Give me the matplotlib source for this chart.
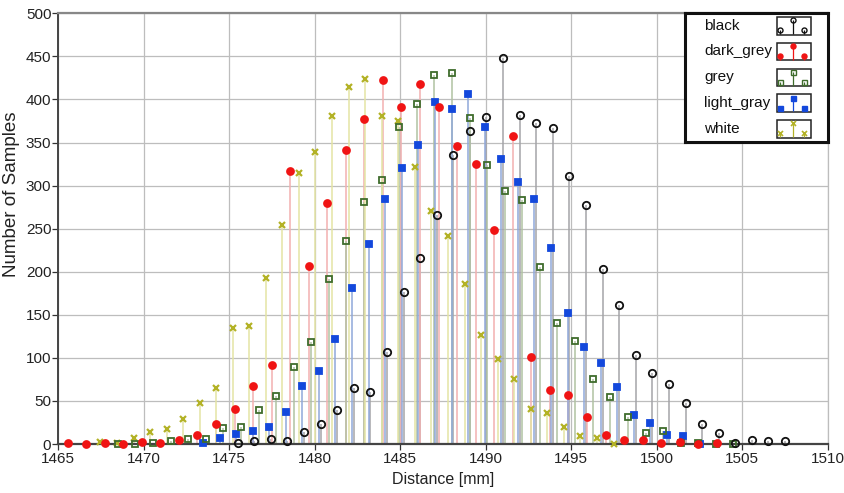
import matplotlib
matplotlib.use('Agg')
import matplotlib.pyplot as plt
from matplotlib.patches import Rectangle

plt.rcParams['font.family'] = ['Liberation Sans', 'DejaVu Sans']

# distance bins [mm] and sample counts, one set per target colour
black_x = [1475.49, 1476.46, 1477.43, 1478.40, 1479.37, 1480.34, 1481.31, 1482.28, 1483.25, 1484.22,
           1485.19, 1486.16, 1487.13, 1488.10, 1489.07, 1490.04, 1491.01, 1491.98, 1492.95, 1493.92,
           1494.89, 1495.86, 1496.83, 1497.80, 1498.77, 1499.74, 1500.71, 1501.68, 1502.65, 1503.62,
           1504.59, 1505.56, 1506.53, 1507.50]
black_y = [1, 3, 6, 3, 14, 23, 40, 65, 60, 107,
           176, 216, 266, 335, 363, 380, 448, 382, 373, 367,
           311, 278, 203, 161, 103, 83, 70, 48, 23, 13,
           1, 5, 4, 4]

dark_grey_x = [1465.55, 1466.63, 1467.72, 1468.80, 1469.89, 1470.97, 1472.06, 1473.14, 1474.23, 1475.31,
               1476.39, 1477.48, 1478.56, 1479.65, 1480.73, 1481.82, 1482.90, 1483.98, 1485.07, 1486.15,
               1487.24, 1488.32, 1489.41, 1490.49, 1491.58, 1492.66, 1493.74, 1494.83, 1495.91, 1497.00,
               1498.08, 1499.17, 1500.25, 1501.34, 1502.42, 1503.50]
dark_grey_y = [1, 0, 1, 0, 2, 1, 5, 10, 23, 41,
               67, 92, 317, 207, 280, 341, 377, 422, 391, 418,
               391, 346, 325, 249, 358, 101, 63, 57, 31, 11,
               5, 5, 1, 2, 0, 1]

grey_x = [1468.48, 1469.51, 1470.54, 1471.57, 1472.59, 1473.62, 1474.65, 1475.68, 1476.71, 1477.74,
          1478.77, 1479.79, 1480.82, 1481.85, 1482.88, 1483.91, 1484.94, 1485.96, 1486.99, 1488.02,
          1489.05, 1490.08, 1491.11, 1492.14, 1493.16, 1494.19, 1495.22, 1496.25, 1497.28, 1498.31,
          1499.34, 1500.37, 1501.39, 1502.42, 1503.45, 1504.48]
grey_y = [0, 0, 1, 3, 6, 6, 18, 20, 40, 56,
          89, 118, 192, 236, 281, 307, 368, 395, 428, 431,
          379, 324, 294, 283, 206, 141, 119, 76, 54, 31,
          13, 15, 1, 1, 0, 0]

light_gray_x = [1473.46, 1474.43, 1475.40, 1476.37, 1477.34, 1478.31, 1479.27, 1480.24, 1481.21, 1482.18,
                1483.15, 1484.12, 1485.09, 1486.06, 1487.03, 1488.00, 1488.96, 1489.93, 1490.90, 1491.87,
                1492.84, 1493.81, 1494.78, 1495.75, 1496.72, 1497.69, 1498.65, 1499.62, 1500.59, 1501.56,
                1502.53]
light_gray_y = [1, 7, 12, 15, 20, 37, 67, 85, 122, 181,
                232, 285, 320, 347, 397, 389, 406, 368, 331, 304,
                285, 227, 152, 113, 94, 66, 34, 24, 11, 9,
                0]

white_x = [1467.46, 1468.43, 1469.40, 1470.36, 1471.33, 1472.30, 1473.27, 1474.24, 1475.20, 1476.17,
           1477.14, 1478.11, 1479.08, 1480.04, 1481.01, 1481.98, 1482.95, 1483.92, 1484.88, 1485.85,
           1486.82, 1487.79, 1488.76, 1489.72, 1490.69, 1491.66, 1492.63, 1493.60, 1494.56, 1495.53,
           1496.50, 1497.47]
white_y = [2, 1, 7, 14, 17, 29, 48, 65, 135, 137,
           193, 254, 315, 339, 381, 415, 424, 381, 375, 322,
           271, 241, 186, 127, 99, 76, 41, 36, 20, 9,
           7, 0]

names = ['black', 'dark_grey', 'grey', 'light_gray', 'white']

# (marker, marker colour, filled, marker size, stem colour)
styles = {
    'black':      ('o', '#111111', False, 5.3, '#a4a4a8'),
    'dark_grey':  ('o', '#f01414', True, 5.0, '#f2b0b0'),
    'grey':       ('s', '#3f6c2c', False, 4.8, '#b0c2a2'),
    'light_gray': ('s', '#1348dc', True, 4.4, '#90a8da'),
    'white':      ('x', '#b3b226', False, 4.6, '#e4e4a4'),
}
data = {
    'black': (black_x, black_y),
    'dark_grey': (dark_grey_x, dark_grey_y),
    'grey': (grey_x, grey_y),
    'light_gray': (light_gray_x, light_gray_y),
    'white': (white_x, white_y),
}

fig = plt.figure(figsize=(8.44, 4.93), dpi=100)
ax = fig.add_axes([58.3 / 844, 1 - 444 / 493, 769.5 / 844, 430.7 / 493])

# stems first
for name in names:
    xs, ys = data[name]
    ax.vlines(xs, 0, ys, colors=styles[name][4], linewidth=1.1, zorder=2)

# markers, black on top
for name in reversed(names):
    xs, ys = data[name]
    m, c, filled, ms, _ = styles[name]
    if m == 'x':
        ax.plot(xs, ys, linestyle='none', marker='x', color=c, markersize=ms,
                markeredgewidth=1.6, zorder=3, clip_on=False)
    else:
        ax.plot(xs, ys, linestyle='none', marker=m, markersize=ms,
                markerfacecolor=c if filled else 'none', markeredgecolor=c,
                markeredgewidth=1.3, zorder=3, clip_on=False)

ax.set_xlim(1465, 1510)
ax.set_ylim(0, 500)
ax.set_xticks(range(1465, 1511, 5))
ax.set_yticks(range(0, 501, 50))
ax.grid(True, color='#bdbdbd', linewidth=0.9, zorder=0)
ax.set_axisbelow(True)
ax.tick_params(axis='both', direction='out', length=4, width=0.9, colors='#333333',
               labelsize=11, labelcolor='#222222')
ax.tick_params(axis='x', pad=2)
ax.tick_params(axis='y', pad=1)

ax.spines['left'].set_color('#444444')
ax.spines['left'].set_linewidth(1.4)
ax.spines['bottom'].set_color('#444444')
ax.spines['bottom'].set_linewidth(1.6)
ax.spines['top'].set_color('#888888')
ax.spines['top'].set_linewidth(1.6)
ax.spines['right'].set_color('#bdbdbd')
ax.spines['right'].set_linewidth(0.9)

ax.set_xlabel('Distance [mm]', fontsize=11.5, color='#222222', labelpad=4)
ax.set_ylabel('Number of Samples', fontsize=13.5, color='#222222')
ax.yaxis.set_label_coords(-0.05, 0.58)

# legend box drawn by hand in pixel units (origin at the box's top-left corner)
lg = fig.add_axes([685 / 844, 1 - 141.7 / 493, 142.7 / 844, 128.4 / 493])
lg.set_xlim(0, 142.7)
lg.set_ylim(128.4, 0)
lg.set_xticks([])
lg.set_yticks([])
for s in lg.spines.values():
    s.set_linewidth(2.2)
    s.set_color('#111111')
lg.set_zorder(5)
lg.patch.set_facecolor('white')

for i, name in enumerate(names):
    m, c, filled, ms, stem = styles[name]
    cy = 12.4 + i * 25.8
    lg.text(19, cy, name, fontsize=11, va='center', ha='left', color='#111111')
    lg.add_patch(Rectangle((91.7, cy - 8.8), 34, 17.6, facecolor='white',
                           edgecolor='#222222', linewidth=1.1))
    pts_x = [95, 108.3, 119]
    pts_y = [cy + 4.5, cy - 5.5, cy + 4.5]
    lg.vlines(pts_x, pts_y, cy + 8.2, colors=c, linewidth=0.9)
    if m == 'x':
        lg.plot(pts_x, pts_y, linestyle='none', marker='x', color=c, markersize=3.6,
                markeredgewidth=1.2)
    else:
        lg.plot(pts_x, pts_y, linestyle='none', marker=m, markersize=3.6,
                markerfacecolor=c if filled else 'none', markeredgecolor=c,
                markeredgewidth=1.0)

fig.savefig('out.png', dpi=100)
